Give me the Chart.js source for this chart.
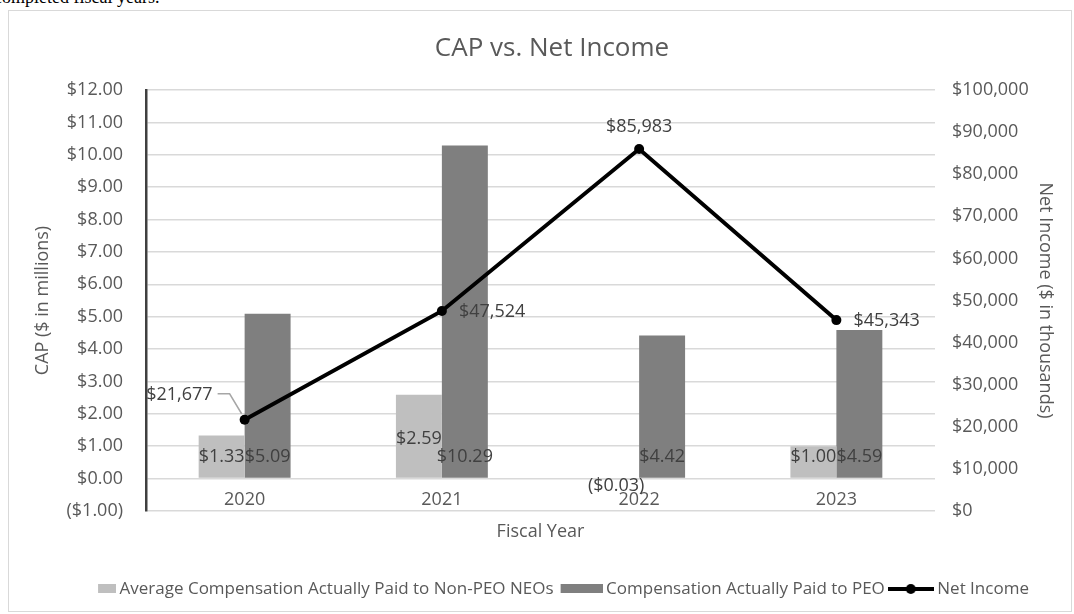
<!DOCTYPE html>
<html lang="en">
<head>
<meta charset="UTF-8">
<title>CAP vs. Net Income</title>
<script src="https://cdn.jsdelivr.net/npm/chart.js"></script>
<style>
  body { margin: 0; background: #fff; width: 1074px; height: 614px; overflow: hidden; position: relative; }
  .lead { position: absolute; left: -6px; top: -13px; font: 18px 'Liberation Serif', serif; color: #000; white-space: nowrap; }
  .frame { position: absolute; left: 8px; top: 10px; width: 1062px; height: 600px; border: 1px solid #d9d9d9; background: #fff; }
  canvas { display: block; }
</style>
</head>
<body>
<div class="lead">completed fiscal years.</div>
<div class="frame"><canvas id="cap" width="1062" height="600"></canvas></div>
<script>
  const years = ['2020', '2021', '2022', '2023'];
  const capNonPeo = [1.33, 2.59, -0.03, 1.00];   // $ millions
  const capPeo = [5.09, 10.29, 4.42, 4.59];      // $ millions
  const netIncome = [21677, 47524, 85983, 45343]; // $ thousands

  const FONT = "'Open Sans', sans-serif";
  const GREY_TXT = '#595959';
  const LIGHT = '#bfbfbf';
  const DARK = '#7f7f7f';

  const fmtCap = v => v < 0 ? '($' + Math.abs(v).toFixed(2) + ')' : '$' + v.toFixed(2);
  const fmtNi = v => '$' + v.toLocaleString('en-US');

  // legend markers drawn on small canvases
  function swatch(w, color) {
    const c = document.createElement('canvas');
    c.width = 46; c.height = 12;
    const g = c.getContext('2d');
    g.fillStyle = color;
    g.fillRect(46 - w, 1, w, 9);
    return c;
  }
  function lineMark() {
    const c = document.createElement('canvas');
    c.width = 46; c.height = 12;
    const g = c.getContext('2d');
    g.strokeStyle = '#000'; g.lineWidth = 4;
    g.beginPath(); g.moveTo(0, 6); g.lineTo(46, 6); g.stroke();
    g.fillStyle = '#000';
    g.beginPath(); g.arc(23, 6, 5, 0, Math.PI * 2); g.fill();
    return c;
  }

  const valueLabels = {
    id: 'valueLabels',
    afterDatasetsDraw(chart) {
      const ctx = chart.ctx;
      ctx.save();
      ctx.font = '18px ' + FONT;
      ctx.fillStyle = '#404040';
      ctx.textBaseline = 'middle';
      ctx.textAlign = 'center';
      [0, 1].forEach(di => {
        chart.getDatasetMeta(di).data.forEach((bar, j) => {
          const v = chart.data.datasets[di].data[j];
          let y = v < 0 ? bar.base + 7 : bar.base - 21;
          if (di === 0 && j === 1) y -= 18; // label dragged up in the original
          ctx.fillText(fmtCap(v), bar.x, y);
        });
      });

      const place = ['left', 'right', 'above', 'right'];
      chart.getDatasetMeta(2).data.forEach((pt, j) => {
        const txt = fmtNi(netIncome[j]);
        if (place[j] === 'left') {
          ctx.textAlign = 'right';
          ctx.fillText(txt, pt.x - 32, pt.y - 25);
          ctx.strokeStyle = '#a6a6a6';
          ctx.lineWidth = 1.5;
          ctx.beginPath();
          ctx.moveTo(pt.x - 27, pt.y - 26);
          ctx.lineTo(pt.x - 15, pt.y - 26);
          ctx.lineTo(pt.x - 3, pt.y - 6);
          ctx.stroke();
        } else if (place[j] === 'right') {
          ctx.textAlign = 'left';
          ctx.fillText(txt, pt.x + 17, pt.y + 1);
        } else {
          ctx.textAlign = 'center';
          ctx.fillText(txt, pt.x, pt.y - 22);
        }
      });
      ctx.restore();
    }
  };

  new Chart(document.getElementById('cap'), {
    data: {
      labels: years,
      datasets: [
        { type: 'bar', label: 'Average Compensation Actually Paid to Non-PEO NEOs', data: capNonPeo,
          backgroundColor: LIGHT, yAxisID: 'y', order: 1 },
        { type: 'bar', label: 'Compensation Actually Paid to PEO', data: capPeo,
          backgroundColor: DARK, yAxisID: 'y', order: 1 },
        { type: 'line', label: 'Net Income', data: netIncome, yAxisID: 'y2', order: 0,
          borderColor: '#000', backgroundColor: '#000', borderWidth: 4,
          pointRadius: 5, pointBackgroundColor: '#000', pointBorderWidth: 0, tension: 0 }
      ]
    },
    options: {
      responsive: false,
      animation: false,
      layout: { padding: { left: 24, right: 0, top: 0, bottom: 3.5 } },
      datasets: { bar: { categoryPercentage: 0.466, barPercentage: 1 } },
      plugins: {
        title: {
          display: true, text: 'CAP vs. Net Income', color: GREY_TXT,
          font: { family: FONT, size: 26, weight: 'normal' },
          padding: { top: 22, bottom: 25.8 }
        },
        legend: {
          position: 'bottom',
          labels: {
            usePointStyle: true, pointStyleWidth: 36, padding: 8,
            color: GREY_TXT, font: { family: FONT, size: 17 },
            generateLabels: chart => {
              const marks = [swatch(18, LIGHT), swatch(42, DARK), lineMark()];
              return chart.data.datasets.map((ds, i) => ({
                text: ds.label, pointStyle: marks[i], fillStyle: 'transparent',
                strokeStyle: 'transparent', lineWidth: 0, hidden: false,
                datasetIndex: i, fontColor: GREY_TXT
              }));
            }
          }
        },
        tooltip: { enabled: false }
      },
      scales: {
        x: {
          grid: { display: false, drawTicks: false },
          border: { display: false },
          // mirrored so the year labels sit inside the plot, just under the $0 line
          ticks: { color: GREY_TXT, font: { family: FONT, size: 18 }, mirror: true, padding: 0 },
          title: { display: true, text: 'Fiscal Year', color: GREY_TXT,
            font: { family: FONT, size: 18 }, padding: { top: 0, bottom: 29.7 } },
          afterFit: s => { s.height = 61.5; }
        },
        y: {
          position: 'left', min: -1, max: 12,
          ticks: { stepSize: 1, color: GREY_TXT, font: { family: FONT, size: 18 }, padding: 23,
            callback: v => fmtCap(v) },
          grid: { color: '#d9d9d9', lineWidth: 1.5, drawTicks: false },
          border: { color: '#404040', width: 2.5 },
          title: { display: true, text: 'CAP ($ in millions)', color: GREY_TXT,
            font: { family: FONT, size: 18 }, padding: { top: -0.8, bottom: 0 } },
          afterFit: s => { s.width = 113; }
        },
        y2: {
          position: 'right', min: 0, max: 100000,
          ticks: { stepSize: 10000, color: GREY_TXT, font: { family: FONT, size: 18 }, padding: 17,
            callback: v => fmtNi(v) },
          grid: { display: false, drawTicks: false },
          border: { display: false },
          title: { display: true, text: 'Net Income ($ in thousands)', color: GREY_TXT,
            font: { family: FONT, size: 18 }, padding: { top: 15.2, bottom: 0 } },
          afterFit: s => { s.width = 136; }
        }
      }
    },
    plugins: [valueLabels]
  });
</script>
</body>
</html>
